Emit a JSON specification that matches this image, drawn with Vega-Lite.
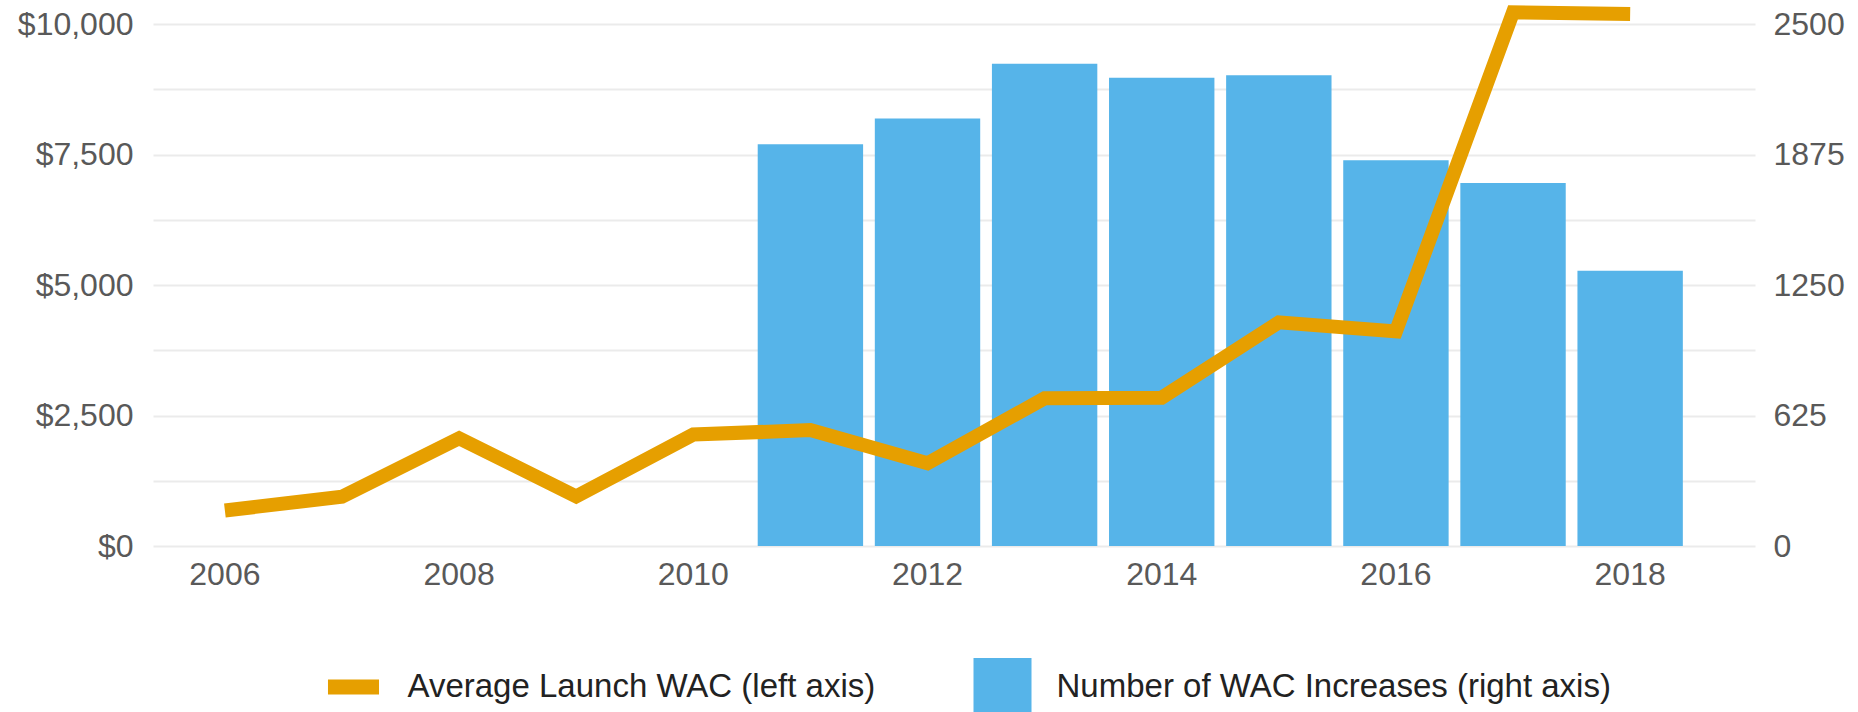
{
  "$schema": "https://vega.github.io/schema/vega-lite/v6.json",
  "width": 1602,
  "height": 522,
  "autosize": {"type": "none"},
  "padding": {"left": 153, "top": 24, "right": 103, "bottom": 166},
  "background": "white",
  "config": {
    "font": "Liberation Sans",
    "view": {"stroke": null},
    "axis": {
      "labelFont": "Liberation Sans",
      "labelFontSize": 32,
      "labelColor": "#595959",
      "ticks": false,
      "tickSize": 0,
      "domain": false,
      "title": null,
      "gridColor": "#ebebeb",
      "gridWidth": 2
    }
  },
  "data": {
    "values": [
      {"year": 2006, "wac": 680, "increases": null},
      {"year": 2007, "wac": 945, "increases": null},
      {"year": 2008, "wac": 2065, "increases": null},
      {"year": 2009, "wac": 950, "increases": null},
      {"year": 2010, "wac": 2135, "increases": null},
      {"year": 2011, "wac": 2220, "increases": 1924},
      {"year": 2012, "wac": 1585, "increases": 2047},
      {"year": 2013, "wac": 2830, "increases": 2310},
      {"year": 2014, "wac": 2840, "increases": 2243},
      {"year": 2015, "wac": 4285, "increases": 2255},
      {"year": 2016, "wac": 4110, "increases": 1848},
      {"year": 2017, "wac": 10225, "increases": 1738},
      {"year": 2018, "wac": 10190, "increases": 1318}
    ]
  },
  "layer": [
    {
      "mark": {"type": "bar", "color": "#56B4E9"},
      "encoding": {
        "x": {
          "field": "year",
          "type": "ordinal",
          "scale": {"paddingInner": 0.1, "paddingOuter": 0.39, "align": 0.21},
          "axis": {"orient": "bottom", "values": [2006, 2008, 2010, 2012, 2014, 2016, 2018], "labelAngle": 0, "labelPadding": 13, "grid": false}
        },
        "y": {
          "field": "increases",
          "type": "quantitative",
          "scale": {"domain": [0, 2500], "nice": false},
          "axis": {"orient": "right", "values": [0, 625, 1250, 1875, 2500], "grid": false, "format": "d", "labelPadding": 18}
        },
        "color": {
          "datum": "Number of WAC Increases (right axis)",
          "type": "nominal",
          "scale": {
            "domain": ["Average Launch WAC (left axis)", "Number of WAC Increases (right axis)"],
            "range": ["#E69F00", "#56B4E9"]
          },
          "legend": {
            "orient": "none",
            "legendX": 171.5,
            "legendY": 634,
            "direction": "horizontal",
            "title": null,
            "labelFont": "Liberation Sans",
            "labelFontSize": 33,
            "labelColor": "#222222",
            "labelLimit": 1000,
            "labelOffset": 25,
            "columnPadding": 98,
            "padding": 0,
            "rowPadding": 0,
            "symbolSize": 3364,
            "symbolStrokeWidth": 0,
            "encode": {
              "symbols": {
                "update": {
                  "shape": {"signal": "datum.value === 'Average Launch WAC (left axis)' ? 'M-1,-1M1,1M-0.88,-0.26H0.88V0.26H-0.88Z' : 'square'"},
                  "fill": {"signal": "datum.value === 'Average Launch WAC (left axis)' ? '#E69F00' : '#56B4E9'"},
                  "opacity": {"value": 1},
                  "strokeWidth": {"value": 0}
                }
              }
            }
          }
        }
      }
    },
    {
      "mark": {"type": "line", "strokeWidth": 14, "strokeJoin": "miter"},
      "encoding": {
        "x": {"field": "year", "type": "ordinal"},
        "y": {
          "field": "wac",
          "type": "quantitative",
          "scale": {"domain": [0, 10000], "nice": false},
          "axis": {
            "orient": "left",
            "values": [0, 1250, 2500, 3750, 5000, 6250, 7500, 8750, 10000],
            "labelExpr": "datum.value % 2500 === 0 ? format(datum.value, '$,') : ''",
            "grid": true,
            "labelPadding": 20
          }
        },
        "color": {"datum": "Average Launch WAC (left axis)", "type": "nominal"}
      }
    }
  ],
  "resolve": {"scale": {"y": "independent"}}
}
